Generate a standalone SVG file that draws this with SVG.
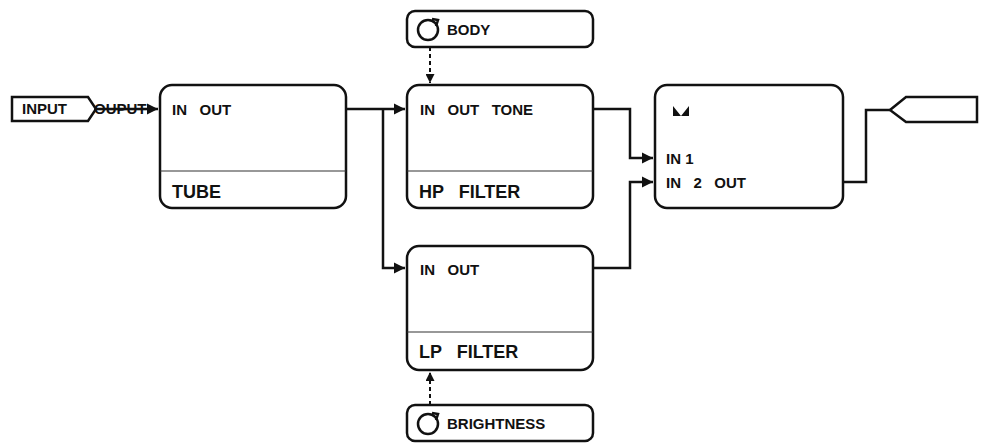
<svg xmlns="http://www.w3.org/2000/svg" width="982" height="446" viewBox="0 0 982 446">
<defs>
<marker id="ar" viewBox="0 0 10 10" refX="10" refY="5" markerWidth="4.5" markerHeight="4.5" orient="auto"><path d="M0,0 L10,5 L0,10 z" fill="#111"/></marker>
<style>
.box{fill:#fff;stroke:#111;stroke-width:2.5}
.div{stroke:#333;stroke-width:1.2}
.t{font-family:"Liberation Sans",Arial,sans-serif;font-weight:bold;fill:#111;font-size:15px}
.big{font-size:18px}
.c{fill:none;stroke:#111;stroke-width:2.5}
.d{fill:none;stroke:#111;stroke-width:2;stroke-dasharray:4 3}
</style>
</defs>
<rect width="982" height="446" fill="#fff"/>
<g id="input"><path class="box" d="M12,97 H88 L96,109 L88,121 H12 Z"/><text class="t" x="22" y="114">INPUT</text></g>
<g id="tube"><rect class="box" x="160" y="85" width="186" height="123" rx="12"/><line class="div" x1="160" y1="171" x2="346" y2="171"/><text class="t" x="172" y="115" xml:space="preserve">IN   OUT</text><text class="t big" x="172" y="198">TUBE</text></g>
<g id="hp"><rect class="box" x="407" y="85" width="186" height="123" rx="12"/><line class="div" x1="407" y1="171" x2="593" y2="171"/><text class="t" x="420" y="115" xml:space="preserve">IN   OUT   TONE</text><text class="t big" x="419" y="198" xml:space="preserve">HP   FILTER</text></g>
<g id="lp"><rect class="box" x="407" y="246" width="186" height="124" rx="12"/><line class="div" x1="407" y1="332" x2="593" y2="332"/><text class="t" x="420" y="275" xml:space="preserve">IN   OUT</text><text class="t big" x="419" y="358" xml:space="preserve">LP   FILTER</text></g>
<g id="mixer"><rect class="box" x="655" y="85" width="188" height="123" rx="12"/><path d="M673,106 L681,116 L689,106 V116 H673 Z" fill="#111"/><text class="t" x="666" y="164">IN 1</text><text class="t" x="666" y="188" xml:space="preserve">IN   2   OUT</text></g>
<g id="output"><path class="box" d="M977,97 H906 L890,110 L906,122 H977 Z"/></g>
<g id="body"><rect class="box" x="407" y="11" width="186" height="36" rx="8"/><circle cx="428" cy="30" r="10" fill="none" stroke="#111" stroke-width="2.5"/><path d="M432,19 L438,20 L436,26" fill="none" stroke="#111" stroke-width="2.5"/><text class="t" x="447" y="35">BODY</text></g>
<g id="brightness"><rect class="box" x="407" y="405" width="186" height="36" rx="8"/><circle cx="428" cy="424" r="10" fill="none" stroke="#111" stroke-width="2.5"/><path d="M432,413 L438,414 L436,420" fill="none" stroke="#111" stroke-width="2.5"/><text class="t" x="447" y="429">BRIGHTNESS</text></g>
<g id="connectors">
<path class="c" d="M96,109 H158" marker-end="url(#ar)"/>
<path class="c" d="M346,109 H405" marker-end="url(#ar)"/>
<path class="c" d="M383,109 V268 H405" marker-end="url(#ar)"/>
<path class="c" d="M593,109 H630 V158 H653" marker-end="url(#ar)"/>
<path class="c" d="M593,268 H630 V182 H653" marker-end="url(#ar)"/>
<path class="c" d="M843,182 H866 V110 H890"/>
<path class="d" d="M430,47 V83" marker-end="url(#ar)"/>
<path class="d" d="M430,405 V372" marker-end="url(#ar)"/>
</g>
<text class="t" x="94" y="114" style="text-decoration:line-through">OUPUT</text>
</svg>
